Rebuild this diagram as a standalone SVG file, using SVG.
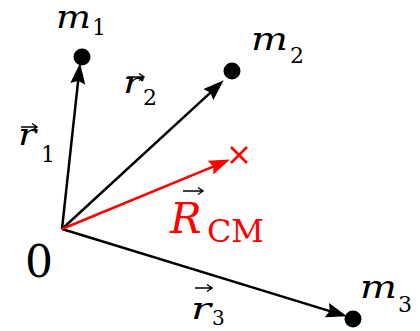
<svg xmlns="http://www.w3.org/2000/svg" width="420" height="331" viewBox="0 0 420 331">
<style>
text{font-family:"DejaVu Serif","Liberation Serif",serif;fill:#000}
.it{font-style:italic}
.red{fill:#ff0000}
.vec{stroke-width:2.5;fill:none}
.acc{stroke:#000;stroke-width:1.4;fill:none}
</style>
<defs>
<marker id="ah" markerUnits="userSpaceOnUse" markerWidth="22" markerHeight="16" refX="10" refY="7.5" orient="auto" viewBox="0 0 22 16">
<path d="M21,7.5 L0,0 L3,7.5 L0,15 Z" fill="#000"/>
</marker>
<marker id="ahr" markerUnits="userSpaceOnUse" markerWidth="22" markerHeight="16" refX="10" refY="7.5" orient="auto" viewBox="0 0 22 16">
<path d="M21,7.5 L0,0 L3,7.5 L0,15 Z" fill="#ff0000"/>
</marker>
</defs>
<g id="connectors">
<line class="vec" x1="62" y1="229" x2="78.9" y2="73.9" stroke="#000" marker-end="url(#ah)"/>
<line class="vec" x1="62" y1="229" x2="215.6" y2="87.8" stroke="#000" marker-end="url(#ah)"/>
<line class="vec" x1="62" y1="229" x2="336.4" y2="313.1" stroke="#000" marker-end="url(#ah)"/>
<line class="vec" x1="62" y1="229" x2="219.8" y2="163.8" stroke="#ff0000" marker-end="url(#ahr)"/>
</g>
<g id="origin">
<text x="25" y="277" font-size="44">0</text>
</g>
<g id="m1">
<circle cx="82" cy="57" r="8.5" fill="#000"/>
<text class="it" x="56" y="28" font-size="31" textLength="35" lengthAdjust="spacingAndGlyphs">m</text>
<text x="92" y="35" font-size="22">1</text>
</g>
<g id="m2">
<circle cx="232" cy="71" r="8.5" fill="#000"/>
<text class="it" x="251" y="50" font-size="31" textLength="37" lengthAdjust="spacingAndGlyphs">m</text>
<text x="290" y="63" font-size="22">2</text>
</g>
<g id="m3">
<circle cx="353" cy="319" r="8.5" fill="#000"/>
<text class="it" x="360" y="298" font-size="31" textLength="37" lengthAdjust="spacingAndGlyphs">m</text>
<text x="398" y="312" font-size="22">3</text>
</g>
<g id="cm">
<path d="M231,147 L247,163 M247,147 L231,163" stroke="#ff0000" stroke-width="2.5"/>
</g>
<g id="label-r1">
<text class="it" x="18" y="145" font-size="30" textLength="18" lengthAdjust="spacingAndGlyphs">r</text>
<path class="acc" d="M21,127 L36,127 M32,123.5 L37,127 L32,130.5"/>
<text x="41" y="162" font-size="22">1</text>
</g>
<g id="label-r2">
<text class="it" x="123" y="93" font-size="30" textLength="19" lengthAdjust="spacingAndGlyphs">r</text>
<path class="acc" d="M127,77 L143,77 M139,73.5 L144,77 L139,80.5"/>
<text x="143" y="105" font-size="22">2</text>
</g>
<g id="label-r3">
<text class="it" x="191" y="319" font-size="30" textLength="20" lengthAdjust="spacingAndGlyphs">r</text>
<path class="acc" d="M195,288 L211,288 M207,284.5 L212,288 L207,291.5"/>
<text x="212" y="325" font-size="20">3</text>
</g>
<g id="label-R">
<text class="it red" x="170" y="233" font-size="42">R</text>
<path class="acc" d="M183,191 L202,191 M198,187.5 L203,191 L198,194.5" stroke="#ff0000"/>
<text class="red" x="207" y="242" font-size="31" textLength="57" lengthAdjust="spacingAndGlyphs">CM</text>
</g>
</svg>
